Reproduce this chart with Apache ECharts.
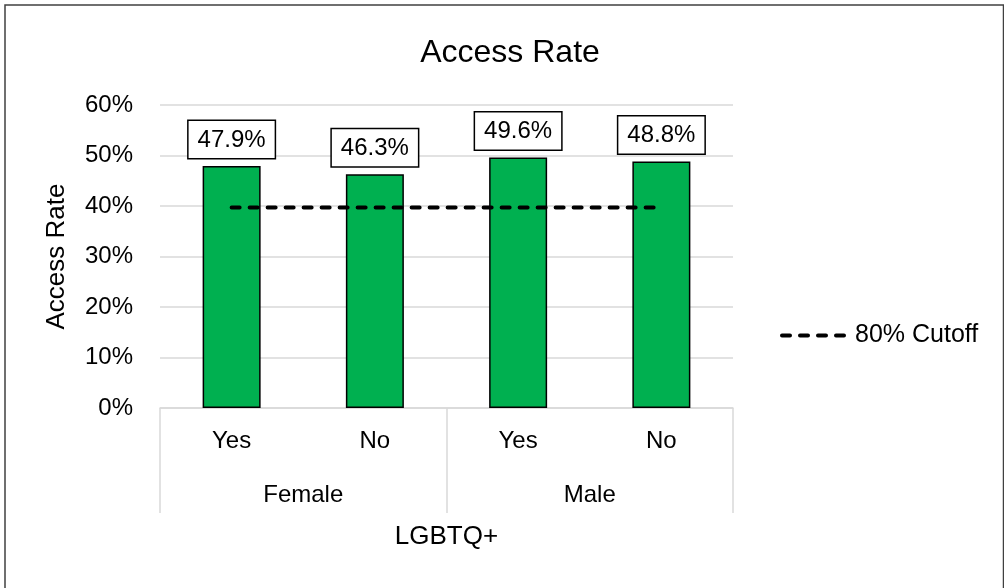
<!DOCTYPE html>
<html>
<head>
<meta charset="utf-8">
<script src="https://cdn.jsdelivr.net/npm/echarts@6/dist/echarts.min.js"></script>
<style>
  html, body { margin: 0; padding: 0; background: #fff; }
  #chart { width: 1004px; height: 588px; }
</style>
</head>
<body>
<div id="chart"></div>
<script>
// categories
const lgbtq = ['Yes', 'No', 'Yes', 'No'];
const genders = ['Female', 'Male'];
// access rate (%) per bar
const accessRate = [47.9, 46.3, 49.6, 48.8];
// 80% of the highest rate
const cutoff = [39.7, 39.7, 39.7, 39.7];

const font = 'Liberation Sans, Arial, sans-serif';
const chart = echarts.init(document.getElementById('chart'));

chart.setOption({
  backgroundColor: '#fff',
  animation: false,
  textStyle: { fontFamily: font, color: '#000' },
  title: {
    text: 'Access Rate',
    left: 505,
    textAlign: 'center',
    top: 32,
    textStyle: { fontFamily: font, fontSize: 32, fontWeight: 'normal', color: '#000' }
  },
  legend: {
    left: 775,
    top: 318,
    itemWidth: 68,
    itemHeight: 14,
    itemGap: 10,
    itemStyle: { opacity: 0 },
    lineStyle: { color: '#000', width: 4, type: [8, 10], cap: 'round' },
    textStyle: { fontFamily: font, fontSize: 25, color: '#000' },
    data: ['80% Cutoff']
  },
  grid: { left: 160, right: 271, top: 105, bottom: 180 },
  xAxis: [
    {
      type: 'category',
      data: lgbtq,
      axisLine: { lineStyle: { color: '#d9d9d9', width: 1.5 } },
      axisTick: { show: false },
      axisLabel: { fontFamily: font, fontSize: 24, color: '#000', margin: 21 }
    },
    {
      type: 'category',
      data: genders,
      position: 'bottom',
      axisLine: { show: false },
      axisTick: { show: true, length: 105, lineStyle: { color: '#d9d9d9', width: 1.5 } },
      axisLabel: { fontFamily: font, fontSize: 24, color: '#000', margin: 75 },
      name: 'LGBTQ+',
      nameLocation: 'middle',
      nameGap: 116,
      nameTextStyle: { fontFamily: font, fontSize: 26, color: '#000' }
    }
  ],
  yAxis: {
    type: 'value',
    min: 0,
    max: 60,
    interval: 10,
    axisLine: { show: false },
    axisTick: { show: false },
    splitLine: { lineStyle: { color: '#d9d9d9', width: 1.5 } },
    axisLabel: { fontFamily: font, fontSize: 24, color: '#000', margin: 27, formatter: '{value}%' },
    name: 'Access Rate',
    nameLocation: 'middle',
    nameRotate: 90,
    nameGap: 90,
    nameTextStyle: { fontFamily: font, fontSize: 26, color: '#000' }
  },
  graphic: [
    {
      type: 'rect',
      shape: { x: 5, y: 5, width: 998.5, height: 700 },
      style: { fill: 'none', stroke: '#404040', lineWidth: 1.5 },
      silent: true
    }
  ],
  series: [
    {
      name: 'Access Rate',
      type: 'bar',
      xAxisIndex: 0,
      data: accessRate,
      barWidth: 58,
      itemStyle: { color: '#00b050', borderColor: '#000', borderWidth: 1.5 },
      label: {
        show: true,
        position: 'top',
        distance: 8,
        formatter: p => p.value.toFixed(1) + '%',
        fontFamily: font,
        fontSize: 24,
        color: '#000',
        backgroundColor: '#fff',
        borderColor: '#000',
        borderWidth: 1.5,
        padding: [7, 9, 6, 9]
      }
    },
    {
      name: '80% Cutoff',
      type: 'line',
      xAxisIndex: 0,
      data: cutoff,
      symbol: 'none',
      itemStyle: { color: '#000' },
      lineStyle: { color: '#000', width: 4, type: [8, 10], cap: 'round' },
      z: 5
    }
  ]
});
</script>
</body>
</html>
